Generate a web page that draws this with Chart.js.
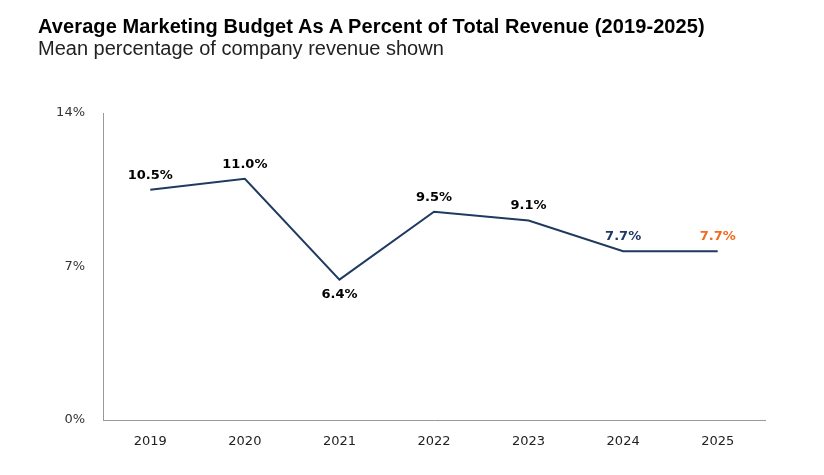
<!DOCTYPE html>
<html>
<head>
<meta charset="utf-8">
<script src="https://cdn.jsdelivr.net/npm/chart.js@4"></script>
<style>
  body { margin: 0; background: #fff; font-family: Arial, "Liberation Sans", sans-serif; }
  #wrap { position: relative; width: 824px; height: 475px; }
  #title { position: absolute; left: 38px; top: 15px; font-size: 20px; font-weight: bold; color: #000; letter-spacing: 0.1px; }
  #subtitle { position: absolute; left: 38px; top: 37px; font-size: 20px; color: #222; }
</style>
</head>
<body>
<div id="wrap">
  <canvas id="myChart" width="824" height="475"></canvas>
  <div id="title">Average Marketing Budget As A Percent of Total Revenue (2019-2025)</div>
  <div id="subtitle">Mean percentage of company revenue shown</div>
</div>
<script>
let years = ["2019", "2020", "2021", "2022", "2023", "2024", "2025"];
let budgetPct = [10.5, 11.0, 6.4, 9.5, 9.1, 7.7, 7.7];
let labelColors = ["#000", "#000", "#000", "#000", "#000", "#1f3864", "#f26b21"];
let labelBelow = [false, false, true, false, false, false, false];

let pointLabels = {
  id: "pointLabels",
  afterDatasetsDraw(chart) {
    let ctx = chart.ctx;
    let meta = chart.getDatasetMeta(0);
    ctx.save();
    ctx.font = "bold 13px 'DejaVu Sans', sans-serif";
    ctx.textAlign = "center";
    meta.data.forEach((pt, i) => {
      ctx.fillStyle = labelColors[i];
      if (labelBelow[i]) {
        ctx.textBaseline = "top";
        ctx.fillText(budgetPct[i].toFixed(1) + "%", pt.x, pt.y + 8);
      } else {
        ctx.textBaseline = "bottom";
        ctx.fillText(budgetPct[i].toFixed(1) + "%", pt.x, pt.y - 8);
      }
    });
    ctx.restore();
  }
};

let ctx = document.getElementById("myChart").getContext("2d");
let chart = new Chart(ctx, {
  type: "line",
  data: {
    labels: years,
    datasets: [{
      data: budgetPct,
      borderColor: "#1f3a5f",
      borderWidth: 2,
      pointRadius: 0,
      tension: 0
    }]
  },
  options: {
    responsive: false,
    animation: false,
    layout: { padding: { top: 113, right: 59, left: 0, bottom: 0 } },
    plugins: { legend: { display: false }, tooltip: { enabled: false } },
    scales: {
      x: {
        offset: true,
        grid: { display: false, drawTicks: false },
        border: { color: "#999", width: 1 },
        ticks: { color: "#222", font: { size: 13, family: "'DejaVu Sans', sans-serif" }, padding: 14 },
        afterFit(scale) { scale.height = 55; }
      },
      y: {
        min: 0, max: 14,
        grid: { display: false, drawTicks: false },
        border: { color: "#999", width: 1 },
        ticks: { stepSize: 7, color: "#333", font: { size: 13, family: "'DejaVu Sans', sans-serif" }, padding: 18,
          callback: (v) => v + "%" },
        afterFit(scale) { scale.width = 103; }
      }
    }
  },
  plugins: [pointLabels]
});
</script>
</body>
</html>
